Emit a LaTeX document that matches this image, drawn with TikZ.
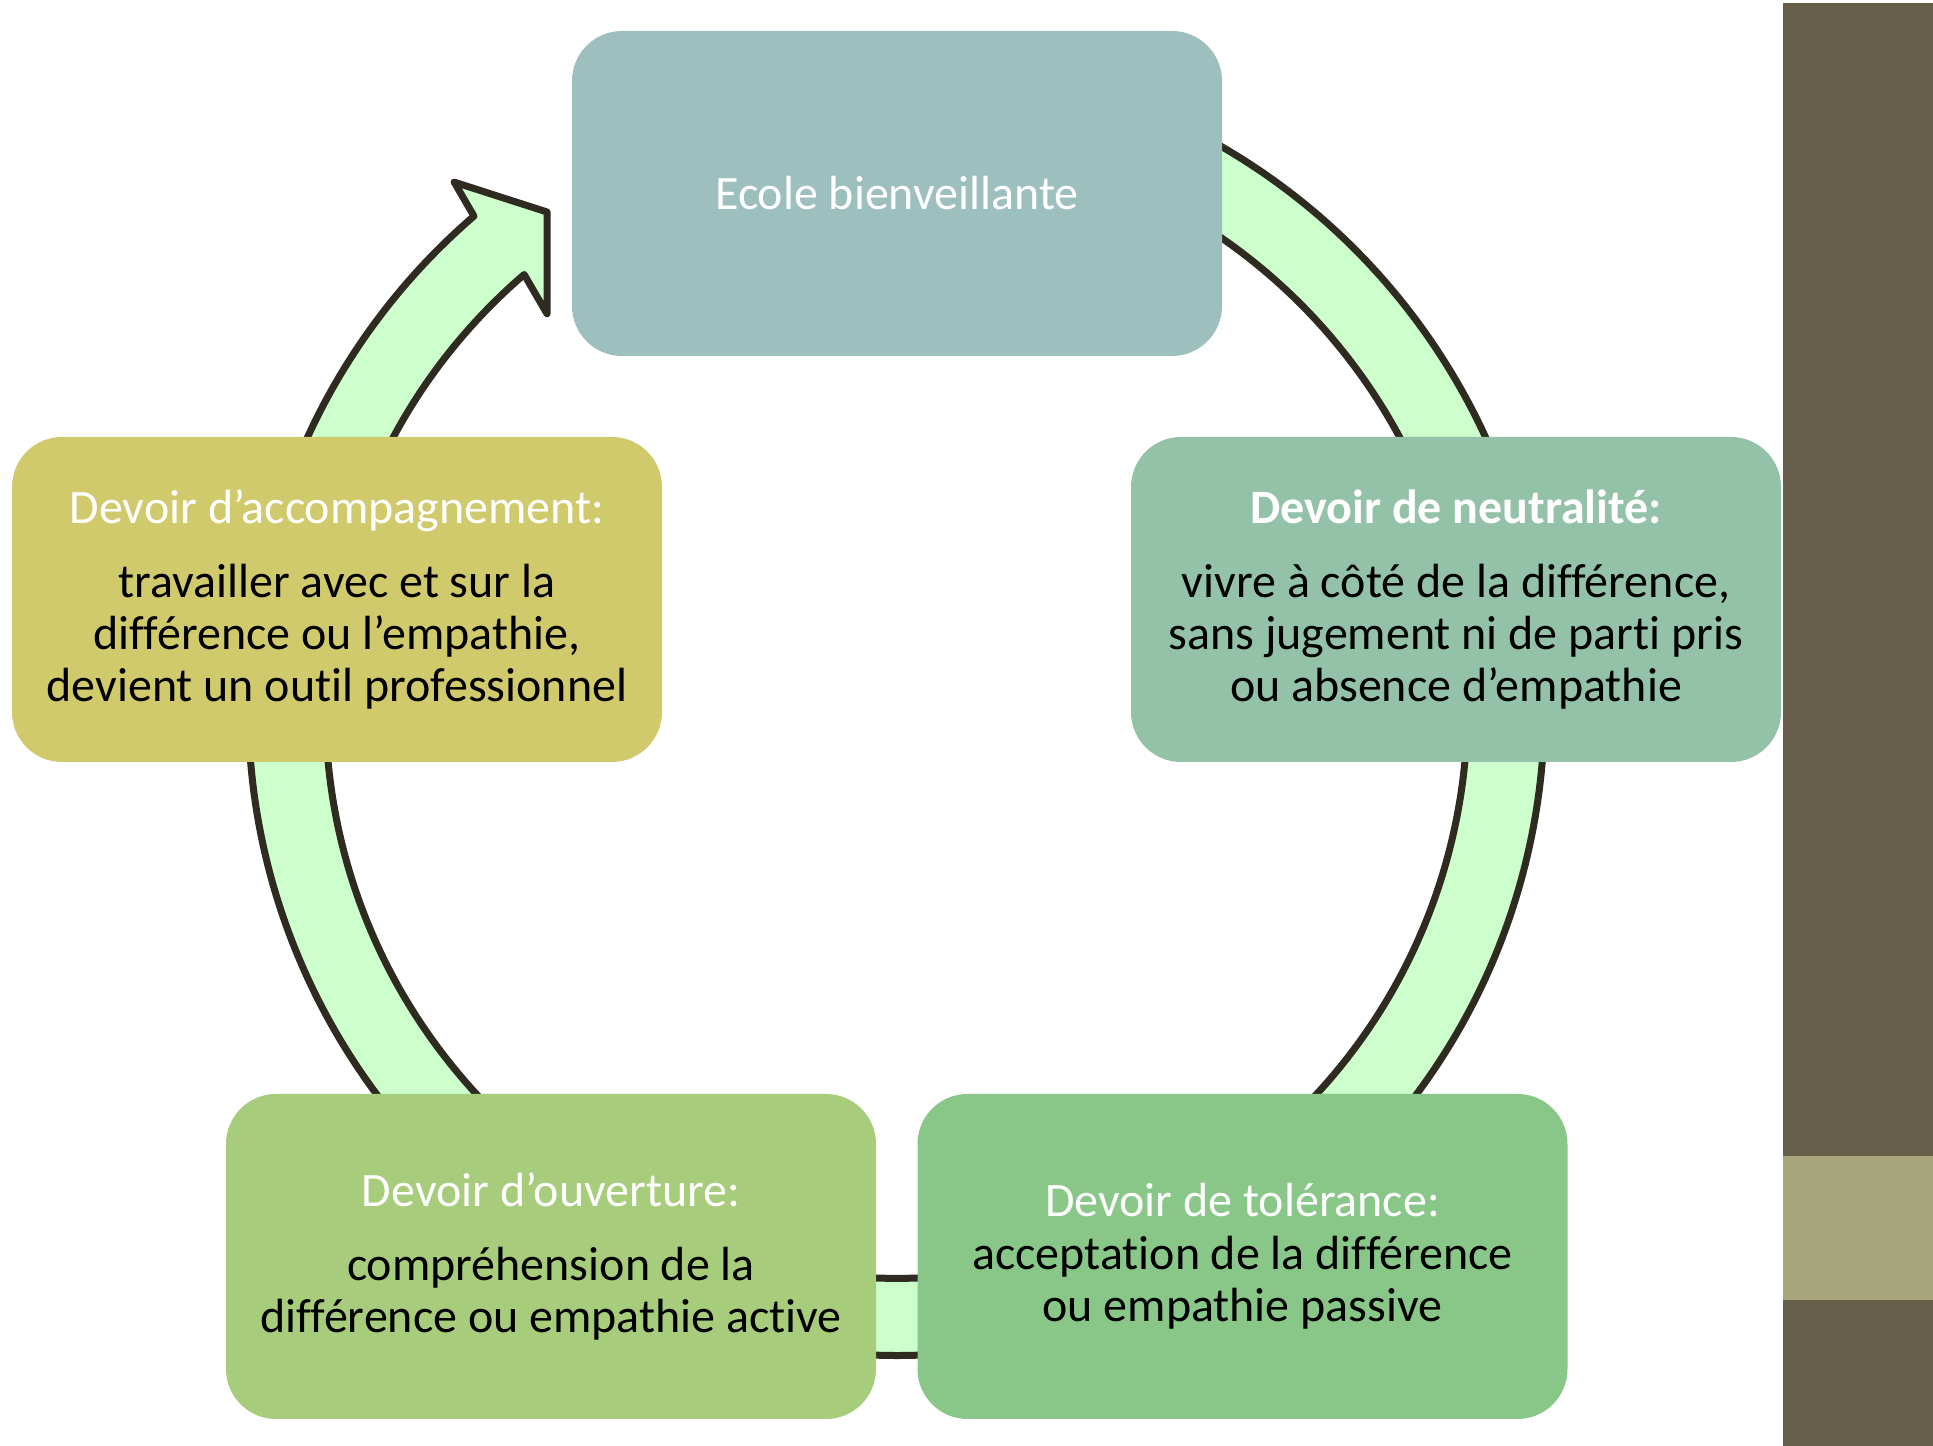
\documentclass[tikz,border=0pt]{standalone}
\usepackage{fontspec}
\setmainfont[Ligatures=NoCommon]{Carlito}

\definecolor{ecolecol}{HTML}{9DBFBE}
\definecolor{neutrecol}{HTML}{93C2A9}
\definecolor{tolercol}{HTML}{89C788}
\definecolor{ouvercol}{HTML}{A7CC7B}
\definecolor{accompcol}{HTML}{D1CA6D}
\definecolor{ringfill}{HTML}{CCFFCC}
\definecolor{ringdark}{HTML}{2F2B20}
\definecolor{barbrown}{HTML}{665E48}
\definecolor{barband}{HTML}{A8A67C}

\pgfdeclareradialshading{slideback}{\pgfpoint{0bp}{0bp}}{color(0bp)=(white); color(14bp)=(white); color(25bp)=(gray!20); color(50bp)=(gray!20)}

\begin{document}
\begin{tikzpicture}[scale=1,
  cyclebox/.style={rounded corners=0.5cm, minimum width=6.5cm, minimum height=3.25cm, inner sep=0pt, align=center, font=\fontsize{13.65}{14.9}\selectfont},
  ringline/.style={draw=ringdark, fill=ringfill, line width=0.07cm, line join=round}]
\useasboundingbox (0,0) rectangle (19.33,14.46);
\fill[white] (0,0) rectangle (19.33,14.46);

% slide background
\begin{scope}
\clip (0.06,0) rectangle (17.83,14.43);
\shade[shading=slideback] (8.95,7.2) circle (23);
\end{scope}
\fill[barbrown] (17.83,0) rectangle (19.33,14.43);
\fill[barband] (17.83,1.46) rectangle (19.33,2.90);

% circular arrow behind the boxes
\begin{scope}[shift={(8.965,7.386)}]
\draw[ringline] (80:6.48) arc[start angle=80, end angle=-229.3, radius=6.48]
  -- (130.1:6.867) -- (125.2:6.063) -- (131.6:5.264) -- (130.7:5.71)
  arc[start angle=-229.3, end angle=80, radius=5.71] -- cycle;
\end{scope}

\node[cyclebox, fill=ecolecol] (ecole) at (8.97,12.525) {\textcolor{white}{Ecole bienveillante}};
\node[cyclebox, fill=neutrecol] (neutre) at (14.56,8.465) {\textcolor{white}{\bfseries Devoir de neutralité:}\\[0.215cm]
 vivre à côté de la différence,\\ sans jugement ni de parti pris\\ ou absence d’empathie};
\node[cyclebox, fill=tolercol] (toler) at (12.425,1.895) {\textcolor{white}{Devoir de tolérance:}\\
 acceptation de la différence\\ ou empathie passive};
\node[cyclebox, fill=ouvercol] (ouver) at (5.51,1.895) {\textcolor{white}{Devoir d’ouverture:}\\[0.215cm]
 compréhension de la\\ différence ou empathie active};
\node[cyclebox, fill=accompcol] (accomp) at (3.37,8.465) {\textcolor{white}{Devoir d’accompagnement:}\\[0.215cm]
 travailler avec et sur la\\ différence ou l’empathie,\\ devient un outil professionnel};
\end{tikzpicture}
\end{document}
